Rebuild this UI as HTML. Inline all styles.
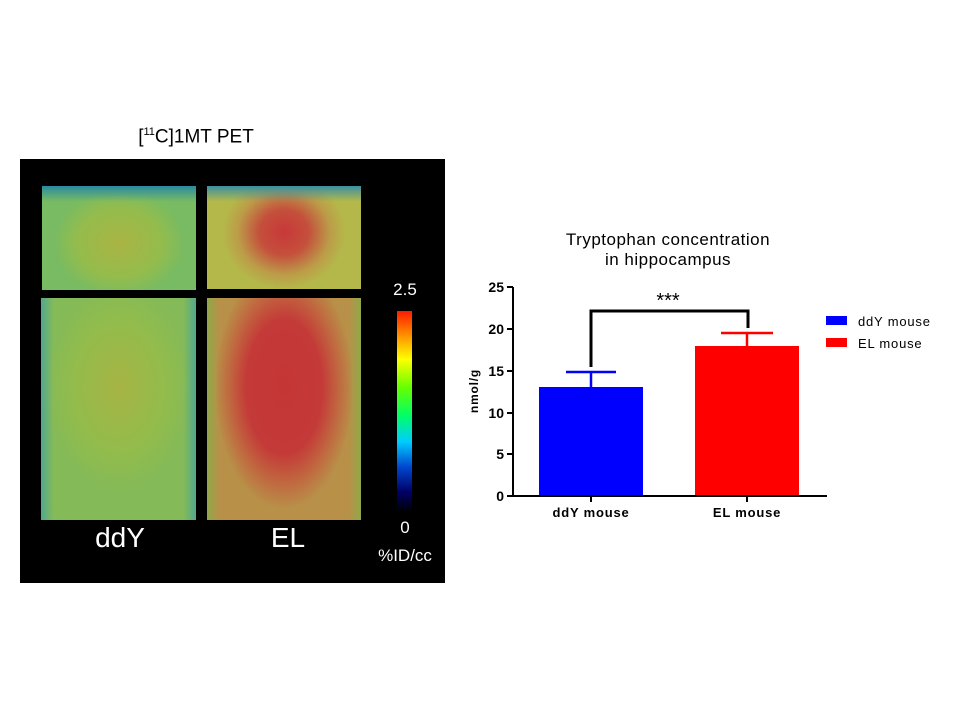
<!DOCTYPE html>
<html><head><style>
body{margin:0;width:960px;height:720px;background:#fff;position:relative;overflow:hidden;font-family:"Liberation Sans",sans-serif}
.a{position:absolute}
</style></head><body>
<div class="a" style="left:96px;top:126px;width:200px;text-align:center;font-size:19px;color:#000">[<sup style="font-size:11px">11</sup>C]1MT PET</div>
<div class="a" style="left:20px;top:159px;width:425px;height:424px;background:#000"></div>
<div class="a" style="left:42px;top:186px;width:154px;height:104px;background:linear-gradient(#2a8aa0 0%,transparent 15%),radial-gradient(ellipse 45% 55% at 50% 55%,#aab444,#94bc4c 60%,#78bb62 95%),#5aa"></div>
<div class="a" style="left:41px;top:298px;width:155px;height:222px;background:linear-gradient(90deg,#50a890 0%,transparent 8%,transparent 92%,#50a890 100%),radial-gradient(ellipse 50% 50% at 50% 40%,#a6b444,#92bc4c 60%,#84ba58 95%)"></div>
<div class="a" style="left:207px;top:186px;width:154px;height:103px;background:linear-gradient(#3a90a0 0%,transparent 15%),radial-gradient(ellipse 40% 55% at 50% 45%,#c83838,#c4503c 40%,#bc9c48 75%,#b4b84a 100%)"></div>
<div class="a" style="left:207px;top:298px;width:154px;height:222px;background:linear-gradient(90deg,#90a848 0%,transparent 8%,transparent 92%,#90a848 100%),radial-gradient(ellipse 45% 55% at 50% 40%,#c43636,#c43a38 55%,#c06a40 80%,#b89048)"></div>
<div class="a" style="left:397px;top:311px;width:15px;height:201px;background:linear-gradient(#ff1a00,#ff9900 13%,#ffff00 24%,#66ff00 38%,#00ff66 52%,#00ccff 65%,#0044cc 78%,#000066 90%,#000)"></div>
<div class="a" style="left:380px;top:280px;width:50px;text-align:center;color:#fff;font-size:17px">2.5</div>
<div class="a" style="left:380px;top:518px;width:50px;text-align:center;color:#fff;font-size:17px">0</div>
<div class="a" style="left:360px;top:546px;width:90px;text-align:center;color:#fff;font-size:17px">%ID/cc</div>
<div class="a" style="left:70px;top:522px;width:100px;text-align:center;color:#fff;font-size:28px">ddY</div>
<div class="a" style="left:238px;top:522px;width:100px;text-align:center;color:#fff;font-size:28px">EL</div>
<svg class="a" style="left:0;top:0" width="960" height="720">
<g font-family="Liberation Sans,sans-serif">
<text x="668" y="245" font-size="17" text-anchor="middle" letter-spacing="0.5">Tryptophan  concentration</text>
<text x="668" y="265" font-size="17" text-anchor="middle" letter-spacing="0.5">in hippocampus</text>
<rect x="539" y="387" width="104" height="109" fill="#0000ff"/>
<rect x="695" y="346" width="104" height="150" fill="#ff0000"/>
<path d="M591 387V372M566 372H616" stroke="#0000ff" stroke-width="2.5"/>
<path d="M747 346V333M721 333H773" stroke="#ff0000" stroke-width="2.5"/>
<path d="M591 367V311H748V328" fill="none" stroke="#000" stroke-width="3"/>
<text x="668" y="307" font-size="20" text-anchor="middle">***</text>
<path d="M513 287V496H827M507 287H513M507 329H513M507 371H513M507 413H513M507 454H513M507 496H513M591 496V502M747 496V502" stroke="#000" stroke-width="2" fill="none"/>
<g font-size="14" font-weight="bold" text-anchor="end">
<text x="504" y="292">25</text><text x="504" y="334">20</text><text x="504" y="376">15</text><text x="504" y="418">10</text><text x="504" y="459">5</text><text x="504" y="501">0</text></g>
<g font-size="13" font-weight="bold" text-anchor="middle" letter-spacing="0.8">
<text x="591" y="517">ddY mouse</text><text x="747" y="517">EL mouse</text></g>
<text transform="translate(478,391) rotate(-90)" font-size="12" font-weight="bold" text-anchor="middle" letter-spacing="0.8">nmol/g</text>
<rect x="826" y="316" width="21" height="9" fill="#0000ff"/>
<rect x="826" y="338" width="21" height="9" fill="#ff0000"/>
<g font-size="13" letter-spacing="0.8"><text x="858" y="326">ddY mouse</text><text x="858" y="348">EL mouse</text></g>
</g></svg>
</body></html>
